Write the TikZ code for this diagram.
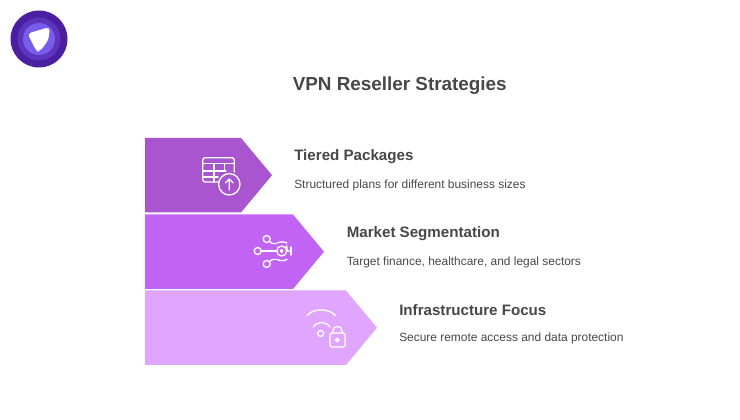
\documentclass[tikz,border=0pt]{standalone}
\usepackage{fontspec}
\setmainfont{Liberation Sans}
\definecolor{arrowA}{HTML}{A855CF}
\definecolor{arrowB}{HTML}{C264F3}
\definecolor{arrowC}{HTML}{E0A5FE}
\definecolor{textc}{HTML}{474747}
\definecolor{logoA}{HTML}{4A1FA0}
\definecolor{logoB}{HTML}{5C34BE}
\definecolor{logoC}{HTML}{7A5CEB}
\tikzset{
  x=0.75pt,y=-0.75pt,
  titletext/.style={anchor=west,inner sep=0,text=textc,font=\fontsize{14.15}{16}\selectfont\bfseries},
  desctext/.style={anchor=west,inner sep=0,text=textc,font=\fontsize{8.95}{12}\selectfont},
  icon/.style={draw=white,line width=1pt,line cap=round,line join=round,fill=none},
  head/.style={anchor=west,inner sep=0,text=textc,font=\fontsize{11.35}{14}\selectfont\bfseries},
}
\begin{document}
\begin{tikzpicture}
\useasboundingbox (0,0) rectangle (740,420);
% logo
\fill[logoA] (39,39) circle (28.5);
\fill[logoB] (39,39) circle (21.5);
\fill[logoC] (39,39) circle (16);
\fill[white,rounded corners=3pt] (27.5,33.5) -- (50,27) -- (48.5,40) -- (39.5,52) -- (36,50.5) -- cycle;
% title
\node[titletext] (title) at (292.5,85.5) {VPN Reseller Strategies};
% arrows
\fill[arrowA] (145,138) -- (241,138) -- (272,175.2) -- (241,212.5) -- (145,212.5) -- cycle;
\fill[arrowB] (145,214.5) -- (293,214.5) -- (324,251.7) -- (293,289) -- (145,289) -- cycle;
\fill[arrowC] (145,290.5) -- (346,290.5) -- (377,327.7) -- (346,365) -- (145,365) -- cycle;
% icon 1: table with arrow circle
\draw[icon] (218.5,182) -- (205.5,182) .. controls (203.5,182) and (202.7,181) .. (202.7,179) -- (202.7,160.5) .. controls (202.7,158.5) and (203.5,157.7) .. (205.5,157.7) -- (231.5,157.7) .. controls (233.5,157.7) and (234.3,158.5) .. (234.3,160.5) -- (234.3,172);
\draw[icon] (202.7,163.5) -- (234.3,163.5) (202.7,171) -- (226,171) (202.7,177) -- (218,177);
\draw[icon] (214,163.5) -- (214,182) (224.3,163.5) -- (224.3,171);
\draw[icon] (229.3,184.3) circle (10.7);
\draw[icon] (229.3,190) -- (229.3,179) (225.5,182.8) -- (229.3,179) -- (233.1,182.8);
% icon 2: network
\draw[icon] (266.7,239) circle (3.5) (257.7,251) circle (3.5) (266.7,264) circle (3.5);
\draw[icon] (261.2,251) -- (276.5,251);
\draw[icon] (269.5,241.5) .. controls (271.5,243.5) and (273,244) .. (276,243.5);
\draw[icon] (269.5,261.5) .. controls (271.5,259.5) and (273,259) .. (276,259.5);
\draw[icon] (277,243) .. controls (280,241.5) and (284,241.5) .. (287,243);
\draw[icon] (277,259.5) .. controls (280,261) and (284,261) .. (287,259.5);
\draw[icon] (281.7,251) circle (5);
\draw[icon] (281.7,251) circle (1.3);
\draw[icon] (286.5,245.5) .. controls (287.5,248) and (287.5,249) .. (287.5,251) -- (291,251);
\draw[icon] (291,247) -- (291,255);
% icon 3: wifi + lock
\draw[icon] (307,315.5) .. controls (314,308) and (328,308) .. (335.5,315.5);
\draw[icon] (313.3,327) .. controls (317,321) and (326,321) .. (330,327);
\draw[icon] (320.7,333.5) circle (3);
\draw[icon,rounded corners=1.5pt] (330,333) rectangle (345,347);
\draw[icon] (332.8,333) -- (332.8,331) .. controls (332.8,325) and (342.2,325) .. (342.2,331) -- (342.2,333);
\draw[icon] (337.3,340) circle (1.8);
% labels
\node[head] (h1) at (294,157) {Tiered Packages};
\node[desctext] (d1) at (294,185.5) {Structured plans for different business sizes};
\node[head] (h2) at (346.5,233.5) {Market Segmentation};
\node[desctext] (d2) at (346.5,262) {Target finance, healthcare, and legal sectors};
\node[head] (h3) at (399,310) {Infrastructure Focus};
\node[desctext] (d3) at (399,338.5) {Secure remote access and data protection};
\end{tikzpicture}
\end{document}
